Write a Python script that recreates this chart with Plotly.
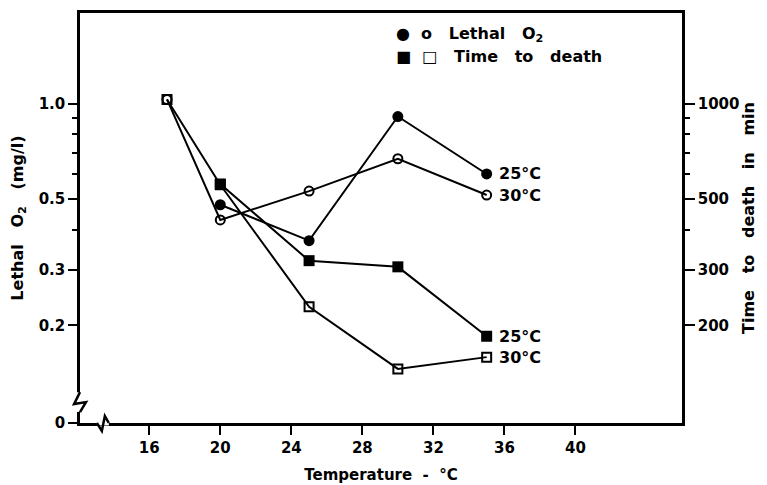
import numpy as np
import plotly.graph_objects as go

# temperature (deg C) and the four series
temp = [17, 20, 25, 30, 35]
lethal_25 = [None, 0.48, 0.37, 0.91, 0.60]      # filled circles, mg/l
lethal_30 = [1.03, 0.43, 0.53, 0.67, 0.515]     # open circles, mg/l
time_25 = [None, 558, 320, 306, 185]            # filled squares, min
time_30 = [1030, 555, 229, 146, 159]            # open squares, min

x_ticks = [16, 20, 24, 28, 32, 36, 40]
left_ticks = [0.0986, 0.2, 0.3, 0.5, 1.0]
left_labels = ["0", "0.2", "0.3", "0.5", "1.0"]
left_minor = [0.4, 0.6, 0.7, 0.8, 0.9]
right_ticks = [200, 300, 500, 1000]
right_minor = [400, 600, 700, 800, 900]

FONT = "DejaVu Sans"
line = dict(color="black", width=2)

fig = go.Figure()
fig.add_trace(go.Scatter(x=temp, y=lethal_25, mode="lines+markers", line=line,
                         marker=dict(symbol="circle", size=11, color="black")))
fig.add_trace(go.Scatter(x=temp, y=lethal_30, mode="lines+markers", line=line,
                         marker=dict(symbol="circle-open", size=9, color="black",
                                     line=dict(width=2))))
fig.add_trace(go.Scatter(x=temp, y=time_25, mode="lines+markers", line=line, yaxis="y2",
                         marker=dict(symbol="square", size=11, color="black")))
fig.add_trace(go.Scatter(x=temp, y=time_30, mode="lines+markers", line=line, yaxis="y2",
                         marker=dict(symbol="square-open", size=9, color="black",
                                     line=dict(width=2))))

# end labels
lab = dict(showarrow=False, xanchor="left", xshift=10,
           font=dict(family=FONT, size=16, color="black", weight="bold"))
fig.add_annotation(x=temp[-1], y=np.log10(lethal_25[-1]), text="25°C", yref="y", **lab)
fig.add_annotation(x=temp[-1], y=np.log10(lethal_30[-1]), text="30°C", yref="y", **lab)
fig.add_annotation(x=temp[-1], y=np.log10(time_25[-1]), text="25°C", yref="y2", **lab)
fig.add_annotation(x=temp[-1], y=np.log10(time_30[-1]), text="30°C", yref="y2", **lab)

# key in the top of the plot
key = dict(showarrow=False, xref="paper", yref="paper", xanchor="left", yanchor="middle",
           font=dict(family=FONT, size=16, color="black", weight="bold"))
fig.add_annotation(x=0.522, y=0.948, text="●  o   Lethal   O<sub>2</sub>", **key)
fig.add_annotation(x=0.522, y=0.893, text="■  □   Time   to   death", **key)

# axis break marks
fig.add_shape(type="rect", xref="paper", yref="paper", x0=-0.006, x1=0.006,
              y0=0.027, y1=0.075, fillcolor="white", line_width=0, layer="above")
fig.add_shape(type="path", xref="paper", yref="paper", layer="above",
              path="M 0,0.0752 L -0.0099,0.0461 L 0.0099,0.051 L 0,0.0267",
              line=dict(color="black", width=2.5))
fig.add_shape(type="rect", xref="paper", yref="paper", x0=0.028, x1=0.048,
              y0=-0.006, y1=0.006, fillcolor="white", line_width=0, layer="above")
fig.add_shape(type="path", xref="paper", yref="paper", layer="above",
              path="M 0.028,0 L 0.0363,-0.0194 L 0.0413,0.017 L 0.0479,0",
              line=dict(color="black", width=2.5))

axis_common = dict(showline=True, linecolor="black", linewidth=2.5, showgrid=False,
                   zeroline=False, ticks="outside", tickwidth=2, tickcolor="black",
                   automargin=False,
                   tickfont=dict(family=FONT, size=15, color="black", weight="bold"))

fig.update_layout(
    width=767, height=485,
    margin=dict(l=72, r=93, t=5, b=70),
    paper_bgcolor="white", plot_bgcolor="white",
    showlegend=False,
    font=dict(family=FONT, size=15, color="black", weight="bold"),
    xaxis=dict(range=[12.1, 46], tickvals=x_ticks, ticklen=9, mirror=True,
               title=dict(text="Temperature  -  °C", standoff=14,
                          font=dict(family=FONT, size=15, weight="bold")),
               **axis_common),
    yaxis=dict(type="log", range=[-1.006, 0.285], tickvals=left_ticks,
               ticktext=left_labels, ticklen=9,
               minor=dict(tickvals=left_minor, ticks="outside", ticklen=5,
                          tickwidth=2, tickcolor="black"),
               title=dict(text="Lethal   O<sub>2</sub>   (mg/l)", standoff=14,
                          font=dict(family=FONT, size=16, weight="bold")),
               **axis_common),
    yaxis2=dict(type="log", range=[1.994, 3.285], overlaying="y", side="right",
                tickvals=right_ticks, ticklen=10,
                minor=dict(tickvals=right_minor, ticks="outside", ticklen=5,
                           tickwidth=2, tickcolor="black"),
                title=dict(text="Time   to   death   in   min", standoff=2,
                           font=dict(family=FONT, size=16, weight="bold")),
                **axis_common),
)

fig.write_html("out.html")
